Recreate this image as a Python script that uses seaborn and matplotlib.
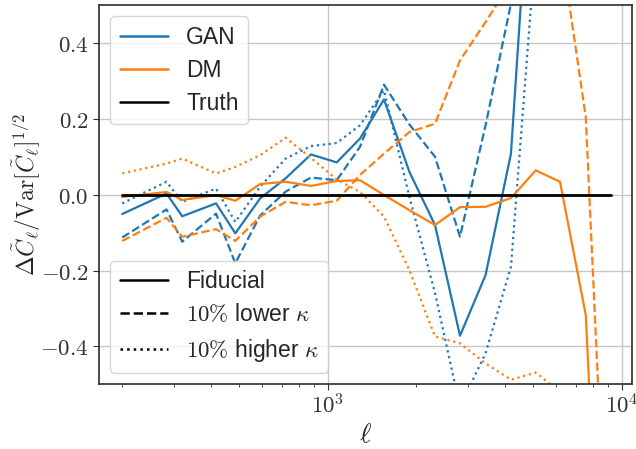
import numpy as np
import pandas as pd
import matplotlib
matplotlib.use("Agg")
import matplotlib.pyplot as plt
from matplotlib.lines import Line2D
import seaborn as sns

# ---- data ----
ell = [200, 283, 320, 417, 485, 589, 719, 877, 1073, 1288, 1554, 1896,
       2317, 2818, 3443, 4200, 5099, 6167, 7545, 9204]

gan_fid = [-0.051, 0.003, -0.057, -0.023, -0.102, -0.010, 0.043, 0.106, 0.085, 0.148,
           0.251, 0.060, -0.080, -0.372, -0.212, 0.108, 1.10, 1.60, 2.00, 2.40]
gan_low = [-0.113, -0.039, -0.124, -0.050, -0.181, -0.055, 0.008, 0.045, 0.038, 0.126,
           0.290, 0.185, 0.100, -0.111, 0.183, 0.503, 0.85, 1.30, 1.70, 2.10]
gan_high = [-0.023, 0.034, -0.019, 0.016, -0.072, 0.021, 0.095, 0.128, 0.136, 0.183,
            0.275, -0.006, -0.259, -0.560, -0.418, -0.190, 0.66, 1.20, 1.60, 2.00]

dm_fid = [-0.006, 0.007, -0.014, -0.001, -0.016, 0.028, 0.034, 0.023, 0.036, 0.038,
          -0.001, -0.041, -0.080, -0.033, -0.032, -0.009, 0.064, 0.034, -0.317, -1.70]
dm_low = [-0.122, -0.061, -0.111, -0.091, -0.122, -0.058, -0.019, -0.028, -0.016, 0.052,
          0.108, 0.165, 0.187, 0.354, 0.455, 0.56, 0.72, 0.67, 0.205, -1.25]
dm_high = [0.056, 0.082, 0.095, 0.056, 0.073, 0.104, 0.150, 0.097, 0.040, 0.007,
           -0.058, -0.199, -0.374, -0.392, -0.445, -0.488, -0.469, -0.52, -0.70, -0.90]

truth = [0.0] * len(ell)

model_labels = ["GAN", "DM", "Truth"]
variant_labels = ["Fiducial", r"$10\%$ lower $\kappa$", r"$10\%$ higher $\kappa$"]
y_ticks = [-0.4, -0.2, 0.0, 0.2, 0.4]
y_tick_labels = [r"$-0.4$", r"$-0.2$", r"$0.0$", r"$0.2$", r"$0.4$"]
x_ticks = [1e3, 1e4]
x_tick_labels = [r"$10^3$", r"$10^4$"]

# ---- style ----
sns.set_theme(style="ticks")
plt.rcParams["font.family"] = ["Liberation Sans", "DejaVu Sans"]
plt.rcParams["mathtext.fontset"] = "cm"
plt.rcParams["axes.edgecolor"] = "0.2"
plt.rcParams["xtick.color"] = "0.2"
plt.rcParams["ytick.color"] = "0.2"

blue = "#1f77b4"
orange = "#ff7f0e"

fig = plt.figure(figsize=(6.36, 4.49), dpi=100)
ax = fig.add_axes([99 / 636, 1 - 384.3 / 449, 533 / 636, 379.3 / 449])

series = [
    (gan_fid, blue, "-"), (gan_low, blue, "--"), (gan_high, blue, ":"),
    (dm_fid, orange, "-"), (dm_low, orange, "--"), (dm_high, orange, ":"),
]
for vals, col, ls in series:
    df = pd.DataFrame({"ell": ell, "val": vals})
    sns.lineplot(data=df, x="ell", y="val", color=col, linestyle=ls, lw=1.6,
                 ax=ax, legend=False, sort=False, estimator=None)
sns.lineplot(x=ell, y=truth, color="black", lw=2.0, ax=ax, legend=False,
             estimator=None)

ax.set_xscale("log")
ax.set_xlim(10 ** 2.2221, 10 ** 4.0350)
ax.set_ylim(-0.5, 0.5)
ax.set_yticks(y_ticks)
ax.set_yticklabels(y_tick_labels)
ax.set_xticks(x_ticks)
ax.set_xticklabels(x_tick_labels)
ax.tick_params(axis="both", which="major", labelsize=16.5, length=4, width=0.8)
ax.tick_params(axis="x", which="minor", length=2.5, width=0.6)
ax.grid(True, which="major", color="0.78", lw=1.0)
ax.set_axisbelow(True)

ax.set_xlabel(r"$\ell$", fontsize=20, labelpad=2)
ax.set_ylabel(r"$\Delta\tilde{C}_\ell/\mathrm{Var}[\tilde{C}_\ell]^{1/2}$", fontsize=17)
ax.yaxis.set_label_coords(-0.105, 0.5)

h1 = [Line2D([], [], color=blue, lw=1.8), Line2D([], [], color=orange, lw=1.8),
      Line2D([], [], color="black", lw=1.8)]
leg1 = ax.legend(h1, model_labels, loc="upper left", fontsize=16.5, frameon=True,
                 handlelength=2.1, labelspacing=0.45)
ax.add_artist(leg1)
h2 = [Line2D([], [], color="black", lw=1.8, ls="-"),
      Line2D([], [], color="black", lw=1.8, ls="--"),
      Line2D([], [], color="black", lw=1.8, ls=":")]
ax.legend(h2, variant_labels, loc="lower left", fontsize=16.5, frameon=True,
          handlelength=2.1, labelspacing=0.45)

fig.savefig("out.png", dpi=100)
